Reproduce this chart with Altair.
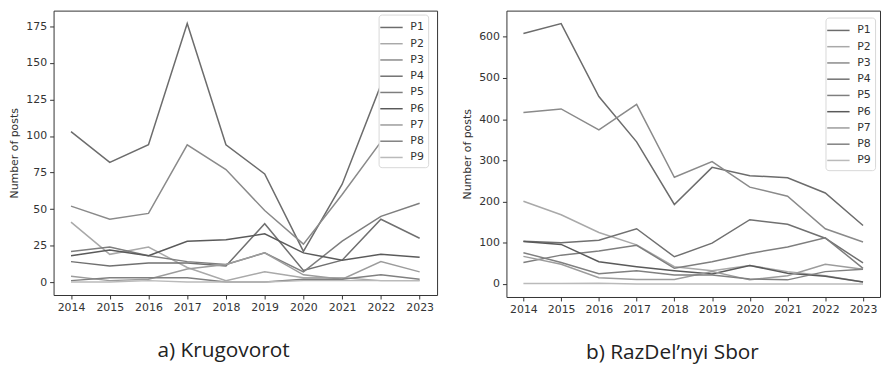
import altair as alt
import pandas as pd

years = list(range(2014, 2024))
series_names = ["P1", "P2", "P3", "P4", "P5", "P6", "P7", "P8", "P9"]
gray_range = ["#6c6c6c", "#a9a9a9", "#8a8a8a", "#707070", "#7e7e7e",
              "#5a5a5a", "#9c9c9c", "#808080", "#bababa"]

# a) Krugovorot
kr_P1 = [103, 82, 94, 177, 94, 74, 21, 67, 135, 130]
kr_P2 = [41, 19, 24, 10, 1, 7, 3, 3, 1, 1]
kr_P3 = [52, 43, 47, 94, 77, 49, 26, 60, 96, 87]
kr_P4 = [14, 11, 13, 13, 11, 40, 8, 15, 43, 30]
kr_P5 = [21, 24, 18, 14, 12, 20, 7, 28, 45, 54]
kr_P6 = [18, 22, 18, 28, 29, 33, 20, 15, 19, 17]
kr_P7 = [4, 1, 2, 9, 12, 20, 5, 2, 14, 7]
kr_P8 = [1, 3, 3, 3, 0, 0, 2, 2, 5, 2]
kr_P9 = [0, 0, 1, 0, 0, 0, 1, 1, 1, 1]

# b) RazDel'nyi Sbor
rs_P1 = [608, 632, 455, 345, 193, 283, 263, 258, 221, 142]
rs_P2 = [201, 168, 125, 95, 42, 32, 45, 30, 20, 5]
rs_P3 = [416, 425, 374, 436, 259, 297, 235, 213, 134, 102]
rs_P4 = [104, 100, 106, 134, 66, 99, 156, 145, 111, 51]
rs_P5 = [52, 70, 80, 94, 38, 54, 74, 90, 112, 38]
rs_P6 = [103, 96, 54, 42, 32, 24, 45, 26, 19, 5]
rs_P7 = [67, 48, 15, 11, 11, 30, 10, 20, 48, 36]
rs_P8 = [76, 52, 25, 32, 22, 22, 12, 10, 30, 36]
rs_P9 = [1, 1, 2, 0, 0, 0, 0, 0, 0, 0]

kr_ticks = [0, 25, 50, 75, 100, 125, 150, 175]
rs_ticks = [0, 100, 200, 300, 400, 500, 600]


def long_df(lists):
    rows = []
    for name, vals in zip(series_names, lists):
        for y, v in zip(years, vals):
            rows.append({"year": y, "posts": v, "series": name})
    return pd.DataFrame(rows)


kr_df = long_df([kr_P1, kr_P2, kr_P3, kr_P4, kr_P5, kr_P6, kr_P7, kr_P8, kr_P9])
rs_df = long_df([rs_P1, rs_P2, rs_P3, rs_P4, rs_P5, rs_P6, rs_P7, rs_P8, rs_P9])

AXFONT = "DejaVu Sans"


def panel(df, ydomain, yticks, width, height, caption, legx, legy, dx):
    return alt.Chart(df).mark_line(strokeWidth=1.5).encode(
        x=alt.X("year:Q",
                scale=alt.Scale(domain=[2013.55, 2023.45], nice=False, zero=False),
                axis=alt.Axis(values=years, format="d", title=None, grid=False,
                              domain=False, tickSize=4, tickColor="#333",
                              labelColor="#333", labelFontSize=11, labelFont=AXFONT,
                              labelPadding=3, labelFlush=False)),
        y=alt.Y("posts:Q",
                scale=alt.Scale(domain=ydomain, nice=False, zero=False),
                axis=alt.Axis(values=yticks, title="Number of posts", grid=False,
                              domain=False, tickSize=4, tickColor="#333",
                              labelColor="#333", labelFontSize=11, labelFont=AXFONT,
                              labelPadding=3, titleFont=AXFONT, titleFontSize=11,
                              titleFontWeight="normal", titleColor="#333",
                              titlePadding=6)),
        color=alt.Color("series:N",
                        scale=alt.Scale(domain=series_names, range=gray_range),
                        legend=alt.Legend(title=None, orient="none",
                                          legendX=legx, legendY=legy,
                                          symbolType="M-1.4,0H1.4", symbolSize=260,
                                          symbolStrokeWidth=1.5, labelFontSize=11,
                                          labelFont=AXFONT, labelColor="#333",
                                          labelOffset=10, rowPadding=2.4,
                                          padding=4, strokeColor="#d8d8d8",
                                          fillColor="white", cornerRadius=3)),
    ).properties(
        width=width, height=height,
        title=alt.TitleParams(caption, orient="bottom", anchor="middle",
                              frame="group", fontSize=21, font="Open Sans",
                              fontWeight="normal", color="#222", offset=28, dx=dx),
    )


left = panel(kr_df, [-8.85, 185.85], kr_ticks, 387, 287, "a) Krugovorot", 328, 4, -22)
right = panel(rs_df, [-31.6, 663.6], rs_ticks, 377, 289, "b) RazDel\u2019nyi Sbor", 322, 7, -21)

chart = alt.hconcat(left, right, spacing=23).resolve_scale(
    color="independent", x="independent", y="independent"
).resolve_legend(color="independent").properties(
    padding={"left": 0, "top": 0, "right": 0, "bottom": 0}
).configure_view(stroke="#333", strokeWidth=1)

chart.save("out.html", embed_options={"renderer": "svg", "actions": False})
